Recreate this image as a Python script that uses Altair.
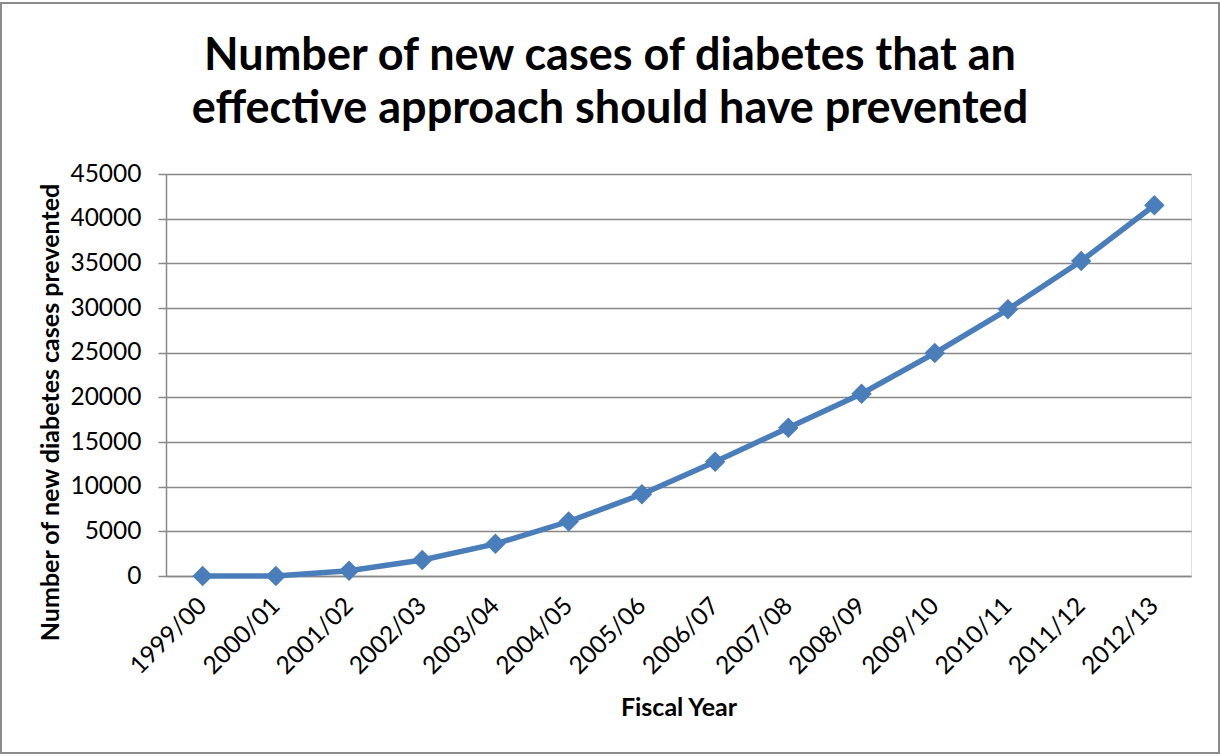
import altair as alt
import pandas as pd

years = ["1999/00", "2000/01", "2001/02", "2002/03", "2003/04", "2004/05", "2005/06",
         "2006/07", "2007/08", "2008/09", "2009/10", "2010/11", "2011/12", "2012/13"]
cases = [0, 0, 600, 1800, 3600, 6100, 9150, 12800, 16600, 20400, 24950, 29850, 35250, 41500]
y_ticks = [0, 5000, 10000, 15000, 20000, 25000, 30000, 35000, 40000, 45000]
title_line1 = "Number of new cases of diabetes that an"
title_line2 = "effective approach should have prevented"

df = pd.DataFrame({"year": years, "cases": cases})
FONT = "Lato"
BLUE = "#4a7ebb"

base = alt.Chart(df).encode(
    x=alt.X("year:O", sort=years,
            scale=alt.Scale(type="point", padding=0.5),
            axis=alt.Axis(title="Fiscal Year", labelAngle=-45, labelAlign="right",
                          labelBaseline="middle", labelPadding=26, ticks=False,
                          domain=True, domainColor="#888888", domainWidth=1.5,
                          labelFont=FONT, labelFontSize=24.5, labelColor="black",
                          titleFont=FONT, titleFontSize=25, titleFontWeight="bold",
                          titleColor="black", titleBaseline="middle", titleY=131)),
    y=alt.Y("cases:Q", scale=alt.Scale(domain=[0, 45000], nice=False),
            axis=alt.Axis(title="Number  of new diabetes cases prevented", values=y_ticks,
                          format="d", grid=True, gridColor="#888888", gridWidth=1.5,
                          domainColor="#888888", domainWidth=1.5, tickColor="#888888",
                          tickWidth=1.5, tickSize=8, labelPadding=17,
                          labelFont=FONT, labelFontSize=24.5, labelColor="black",
                          titleFont=FONT, titleFontSize=25, titleFontWeight="bold",
                          titleColor="black", titleBaseline="middle",
                          titleY=238, titleX=-116)),
)

line = base.mark_line(color=BLUE, strokeWidth=5.5)
pts = base.mark_point(shape="diamond", filled=True, color=BLUE, size=420, opacity=1)

border = alt.Chart(df).mark_rect(fill=None, stroke="#8c8c8c", strokeWidth=2).encode(
    x=alt.value(-165), x2=alt.value(1053), y=alt.value(-171), y2=alt.value(579)
)

def title_text(txt, ypos):
    return alt.Chart(pd.DataFrame({"t": [txt]})).mark_text(
        font=FONT, fontSize=45, fontWeight="bold", color="black",
        align="center", baseline="alphabetic"
    ).encode(text="t:N", x=alt.value(444), y=alt.value(ypos))

chart = alt.layer(border, line, pts,
                  title_text(title_line1, -104), title_text(title_line2, -51)).properties(
    width=1025, height=402,
    padding={"left": 166, "top": 174, "right": 29, "bottom": 180},
    autosize=alt.AutoSizeParams(type="none"),
).configure_view(stroke=None).configure(background="white")

chart.save("out.html", embed_options={"renderer": "svg", "actions": False})
